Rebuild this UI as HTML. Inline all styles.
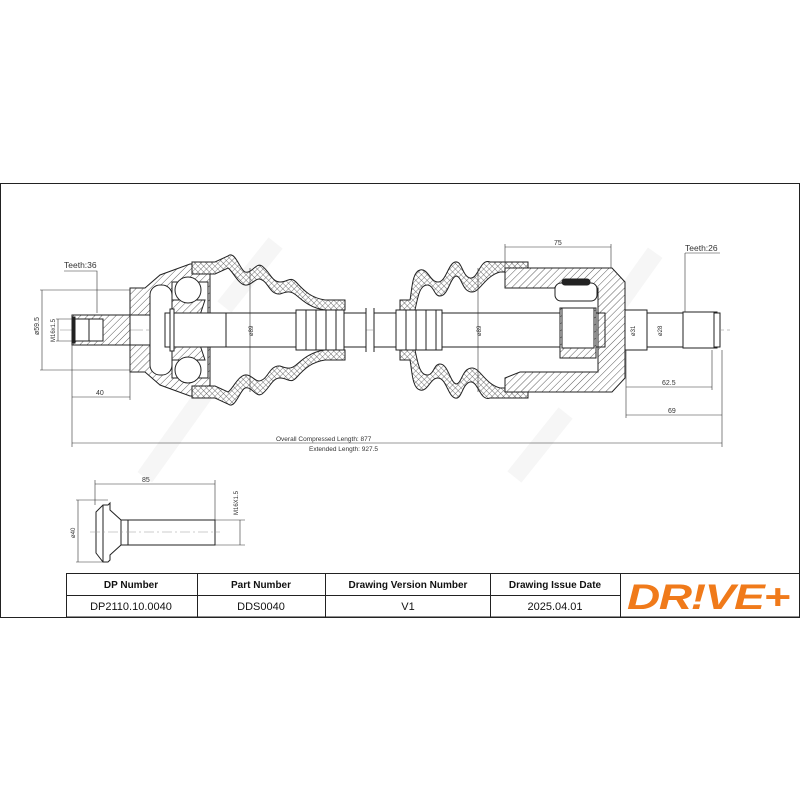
<!DOCTYPE html>
<html><head><meta charset="utf-8"><style>
html,body{margin:0;padding:0;background:#fff;width:800px;height:800px;overflow:hidden}
svg{display:block}
text{font-family:"Liberation Sans",sans-serif}
</style></head><body>
<svg width="800" height="800" viewBox="0 0 800 800" xmlns="http://www.w3.org/2000/svg">
<defs>
<pattern id="h" width="5" height="5" patternUnits="userSpaceOnUse" patternTransform="rotate(45)">
<rect width="5" height="5" fill="#fff"/><line x1="0" y1="0" x2="0" y2="5" stroke="#333" stroke-width="0.8"/></pattern>
<pattern id="x" width="4" height="4" patternUnits="userSpaceOnUse" patternTransform="rotate(45)">
<rect width="4" height="4" fill="#fff"/><path d="M0 0V4M0 0H4" stroke="#444" stroke-width="0.7"/></pattern>
</defs>
<g fill="none" stroke="#f6f6f6" stroke-width="18" stroke-linecap="square">
<path d="M150 470 L200 400 M230 300 L270 250 M520 470 L560 420 M600 330 L650 260"/>
</g>
<rect x="0.5" y="183.5" width="799" height="434" fill="none" stroke="#222" stroke-width="1"/>

<g stroke="#222" stroke-width="1" fill="none">
<line x1="60" y1="330" x2="730" y2="330" stroke="#888" stroke-width="0.5" stroke-dasharray="14 3 3 3"/>
<path d="M72 315 H130 V345 H72 Z" fill="url(#h)"/>
<rect x="75" y="319" width="28" height="22" fill="#fff"/>
<line x1="89" y1="319" x2="89" y2="341"/>
<rect x="72" y="317" width="3" height="26" fill="#222"/>
<path d="M130 288 H145 L160 275 L190 264 H210 V396 H190 L160 385 L145 372 H130 V345 L155 345 V315 L130 315 Z" fill="url(#h)"/>
<rect x="150" y="285" width="22" height="90" rx="10" fill="#fff"/>
<rect x="172" y="282" width="36" height="96" fill="#fff"/>
<path d="M172 300 H205 L200 315 H172 Z M172 360 H205 L200 345 H172 Z" fill="url(#h)"/>
<circle cx="188" cy="290" r="13" fill="#fff"/>
<circle cx="188" cy="370" r="13" fill="#fff"/>
<path d="M192 262 H215 L228 256 C235 250 240 270 245 272 C252 274 256 262 262 266 C270 272 272 282 280 282 C288 282 290 276 296 282 C305 292 312 298 325 300 H345 V310 H325 C310 308 302 300 296 295 C290 290 286 292 280 294 C270 295 268 282 262 280 C256 276 252 286 245 285 C238 284 232 270 228 268 L215 274 H192 Z" fill="url(#x)"/>
<path d="M192 398 H215 L228 404 C235 410 240 390 245 388 C252 386 256 398 262 394 C270 388 272 378 280 378 C288 378 290 384 296 378 C305 368 312 362 325 360 H345 V350 H325 C310 352 302 360 296 365 C290 370 286 368 280 366 C270 365 268 378 262 380 C256 384 252 374 245 375 C238 376 232 390 228 392 L215 386 H192 Z" fill="url(#x)"/>
<path d="M528 262 H505 L490 262 C480 258 478 280 470 278 C462 276 462 260 455 262 C448 264 446 282 438 282 C430 282 428 268 420 270 C412 272 412 290 410 300 H400 V310 H415 C418 296 420 284 428 285 C434 286 434 296 440 296 C448 296 450 278 456 276 C462 276 462 292 472 292 C480 292 485 276 500 272 L528 272 Z" fill="url(#x)"/>
<path d="M528 398 H505 L490 398 C480 402 478 380 470 382 C462 384 462 400 455 398 C448 396 446 378 438 378 C430 378 428 392 420 390 C412 388 412 370 410 360 H400 V350 H415 C418 364 420 376 428 375 C434 374 434 364 440 364 C448 364 450 382 456 384 C462 384 462 368 472 368 C480 368 485 384 500 388 L528 388 Z" fill="url(#x)"/>
<rect x="165" y="313" width="201" height="34" fill="#fff"/>
<rect x="374" y="313" width="186" height="34" fill="#fff"/>
<line x1="366" y1="308" x2="366" y2="352"/><line x1="374" y1="308" x2="374" y2="352"/>
<rect x="296" y="310" width="48" height="40" fill="#fff"/>
<path d="M306 310V350M316 310V350M326 310V350M336 310V350"/>
<rect x="396" y="310" width="46" height="40" fill="#fff"/>
<path d="M406 310V350M416 310V350M426 310V350M436 310V350"/>
<line x1="226" y1="313" x2="226" y2="347"/>
<rect x="170" y="309" width="4" height="42" fill="#fff"/>
<path d="M505 268 H612 L625 282 V378 L612 392 H505 V378 L520 372 H598 V288 H505 Z" fill="url(#h)"/>
<rect x="555" y="283" width="42" height="18" rx="6" fill="#fff"/>
<rect x="562" y="279" width="28" height="6" rx="3" fill="#222"/>
<rect x="560" y="308" width="36" height="50" fill="url(#h)"/>
<rect x="562" y="308" width="32" height="40" fill="#fff"/>
<path d="M596 313 H605 V347 H596"/>
<rect x="625" y="310" width="22" height="40" fill="#fff"/>
<rect x="647" y="313" width="36" height="34" fill="#fff"/>
<rect x="683" y="312" width="34" height="36" fill="#fff"/>
<rect x="714" y="313" width="6" height="34" fill="#fff"/>
</g>

<g stroke="#333" stroke-width="0.6" fill="none">
<path d="M64 271 H97 V313"/>
<path d="M42 290 V370 M40 290 H130 M40 370 H130"/>
<path d="M58 319 V341 M56 319 H72 M56 341 H72"/>
<path d="M72 345 V447 M130 345 V400 M72 397 H130"/>
<path d="M72 443 H722 M722 350 V447"/>
<path d="M250 268 V392"/>
<path d="M478 268 V392"/>
<path d="M505 244 V268 M611 244 V268 M505 247 H611"/>
<path d="M685 253 H720 M685 253 V312"/>
<path d="M626 350 V418 M626 387 H712 M712 350 V390 M626 415 H722"/>
<path d="M95 480 V505 M215 480 V520 M95 484 H215"/>
<path d="M76 500 H108 M76 562 H108 M78 500 V562"/>
<path d="M215 520 H245 M215 545 H245 M240 520 V545"/>
</g>
<g font-size="7" fill="#333">
<text x="64" y="268" font-size="8.5">Teeth:36</text>
<text x="685" y="251" font-size="8.5">Teeth:26</text>
<text x="96" y="395">40</text>
<text x="554" y="245">75</text>
<text x="662" y="385">62.5</text>
<text x="668" y="413">69</text>
<text x="276" y="441" font-size="6.5">Overall Compressed Length: 877</text>
<text x="309" y="451" font-size="6.5">Extended Length: 927.5</text>
<text x="142" y="482">85</text>
<text transform="translate(39 335) rotate(-90)">ø59.5</text>
<text transform="translate(55 342) rotate(-90)" font-size="6">M16x1.5</text>
<text transform="translate(253 336) rotate(-90)" font-size="6">ø89</text>
<text transform="translate(481 336) rotate(-90)" font-size="6">ø89</text>
<text transform="translate(635 336) rotate(-90)" font-size="6">ø31</text>
<text transform="translate(662 336) rotate(-90)" font-size="6">ø28</text>
<text transform="translate(75 538) rotate(-90)" font-size="6">ø40</text>
<text transform="translate(238 515) rotate(-90)" font-size="6">M16X1.5</text>
</g>
<g stroke="#222" stroke-width="1" fill="#fff">
<path d="M96 512 L103 505 H108 L110 503 V510 L121 520 V545 L110 555 V560 L108 562 H103 L96 553 Z"/>
<line x1="103" y1="505" x2="103" y2="562"/>
<rect x="128" y="520" width="87" height="25"/>
<line x1="121" y1="520" x2="128" y2="520"/><line x1="121" y1="545" x2="128" y2="545"/>
<line x1="90" y1="532" x2="220" y2="532" stroke="#999" stroke-width="0.5" stroke-dasharray="10 3 2 3"/>
</g>
<g stroke="#222" stroke-width="1" fill="none">
<rect x="66.5" y="573.5" width="733" height="43.5"/>
<line x1="66" y1="595.5" x2="620" y2="595.5"/>
<line x1="197.5" y1="573" x2="197.5" y2="617"/>
<line x1="325.5" y1="573" x2="325.5" y2="617"/>
<line x1="490.5" y1="573" x2="490.5" y2="617"/>
<line x1="620.5" y1="573" x2="620.5" y2="617"/>
</g>
<g font-size="10" fill="#111" text-anchor="middle">
<text x="131" y="588" font-weight="bold">DP Number</text>
<text x="261" y="588" font-weight="bold">Part Number</text>
<text x="408" y="588" font-weight="bold">Drawing Version Number</text>
<text x="555" y="588" font-weight="bold">Drawing Issue Date</text>
<text x="131" y="610" font-size="11">DP2110.10.0040</text>
<text x="261" y="610" font-size="11">DDS0040</text>
<text x="408" y="610" font-size="11">V1</text>
<text x="555" y="610" font-size="11">2025.04.01</text>
<text x="708" y="609" font-size="35" font-weight="bold" font-style="italic" fill="#f07a1a" letter-spacing="-1" textLength="162" lengthAdjust="spacingAndGlyphs">DR!VE+</text>
</g>
</svg>
</body></html>
